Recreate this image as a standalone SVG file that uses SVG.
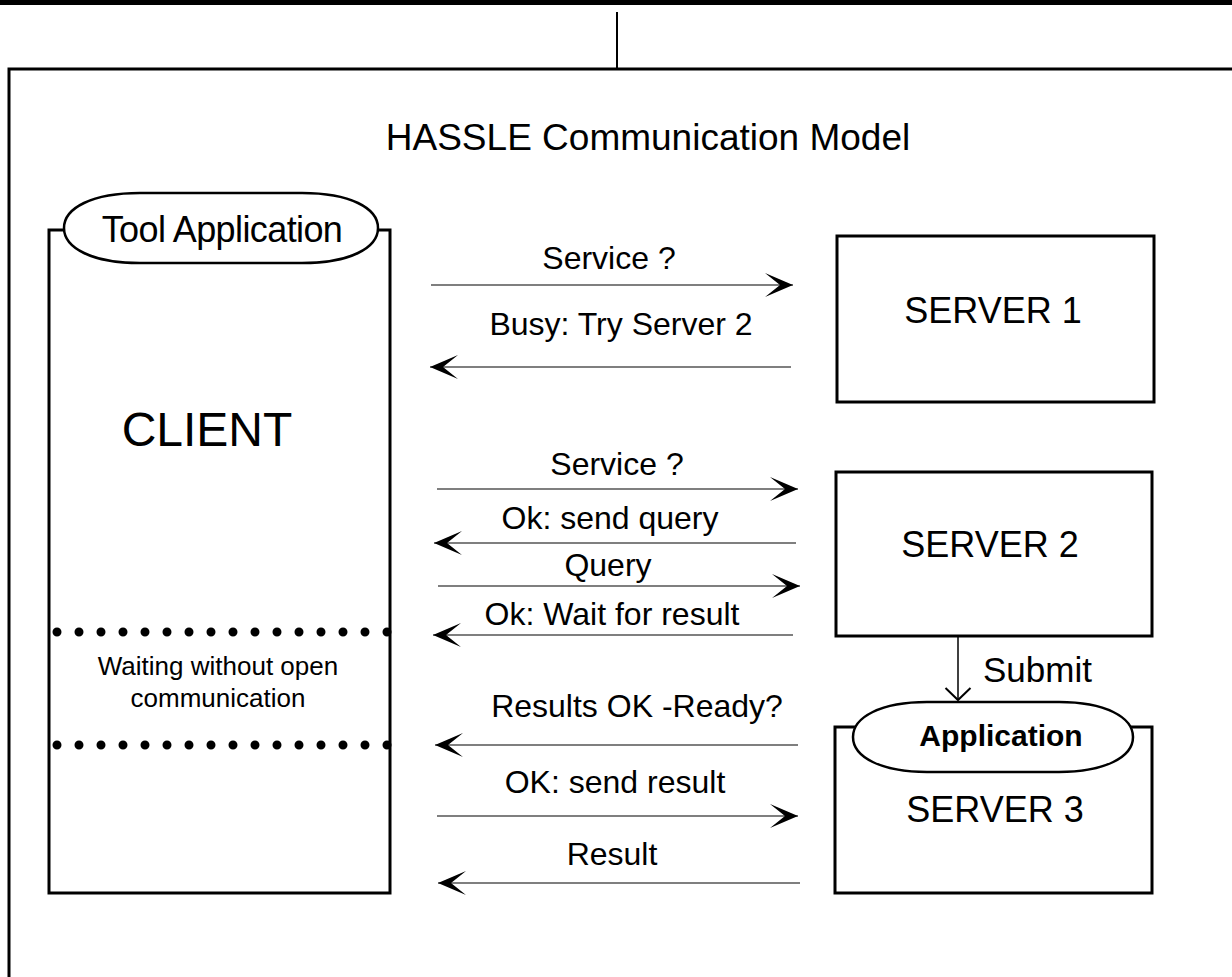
<svg xmlns="http://www.w3.org/2000/svg" width="1232" height="977" viewBox="0 0 1232 977">
<defs>
<style>
text{font-family:"Liberation Sans",Arial,sans-serif;fill:#000}
.box{fill:#fff;stroke:#000;stroke-width:3}
.ell{fill:#fff;stroke:#000;stroke-width:2.5}
.msg{stroke:#555;stroke-width:1.3;fill:none}
.lbl{font-size:32px;text-anchor:middle}
.srv{font-size:36px;text-anchor:middle}
.dots{stroke:#000;stroke-width:9;stroke-linecap:round;stroke-dasharray:0 22;fill:none}
</style>
<marker id="ah" viewBox="-28 -13 30 26" refX="0" refY="0" markerWidth="30" markerHeight="26" markerUnits="userSpaceOnUse" orient="auto">
<path d="M0,0 L-28,-12 L-13,0 L-28,12 Z" fill="#000"/>
</marker>
<marker id="open" viewBox="-15 -14 17 28" refX="0" refY="0" markerWidth="17" markerHeight="28" markerUnits="userSpaceOnUse" orient="auto">
<path d="M-12,-12.5 L0,0 L-12,12.5" fill="none" stroke="#000" stroke-width="2"/>
</marker>
</defs>
<rect x="0" y="0" width="1232" height="977" fill="#fff"/>
<rect x="0" y="0" width="1232" height="5" fill="#000"/>
<line x1="617" y1="12" x2="617" y2="68" stroke="#000" stroke-width="2"/>
<path d="M9,980 L9,69 L1235,69" fill="none" stroke="#000" stroke-width="3"/>
<text x="648" y="150" font-size="37" text-anchor="middle">HASSLE Communication Model</text>

<g id="client">
<rect class="box" x="49" y="230" width="341" height="663"/>
<path class="ell" d="M64,228 C64,208 92,193 140,193 L302,193 C350,193 378,208 378,228 C378,248 350,263 302,263 L140,263 C92,263 64,248 64,228 Z"/>
<text x="222" y="242" font-size="36" text-anchor="middle" letter-spacing="-0.6">Tool Application</text>
<text x="207" y="446" font-size="48" text-anchor="middle">CLIENT</text>
<line class="dots" x1="57" y1="632" x2="389" y2="632"/>
<line class="dots" x1="57" y1="745" x2="389" y2="745"/>
<text x="218" y="675" font-size="26" text-anchor="middle">Waiting without open</text>
<text x="218" y="707" font-size="26" text-anchor="middle">communication</text>
</g>

<g id="server1">
<rect class="box" x="837" y="236" width="317" height="166"/>
<text class="srv" x="993" y="323">SERVER 1</text>
</g>

<g id="server2">
<rect class="box" x="836" y="472" width="316" height="164"/>
<text class="srv" x="990" y="557">SERVER 2</text>
</g>

<g id="server3">
<rect class="box" x="835" y="727" width="317" height="166"/>
<path class="ell" d="M853,737 C853,717 881,702 927,702 L1059,702 C1105,702 1133,717 1133,737 C1133,757 1105,772 1059,772 L927,772 C881,772 853,757 853,737 Z"/>
<text x="1001" y="746" font-size="30" font-weight="bold" text-anchor="middle">Application</text>
<text class="srv" x="995" y="822">SERVER 3</text>
</g>

<g id="connectors">
<line class="msg" x1="431" y1="285" x2="793" y2="285" marker-end="url(#ah)"/>
<text class="lbl" x="609" y="269">Service ?</text>
<line class="msg" x1="791" y1="367" x2="430" y2="367" marker-end="url(#ah)"/>
<text class="lbl" x="621" y="335">Busy: Try Server 2</text>

<line class="msg" x1="437" y1="489" x2="798" y2="489" marker-end="url(#ah)"/>
<text class="lbl" x="617" y="475">Service ?</text>
<line class="msg" x1="796" y1="543" x2="434" y2="543" marker-end="url(#ah)"/>
<text class="lbl" x="610" y="529">Ok: send query</text>
<line class="msg" x1="438" y1="586" x2="800" y2="586" marker-end="url(#ah)"/>
<text class="lbl" x="608" y="576">Query</text>
<line class="msg" x1="793" y1="635" x2="433" y2="635" marker-end="url(#ah)"/>
<text class="lbl" x="612" y="625">Ok: Wait for result</text>

<line class="msg" x1="798" y1="745" x2="435" y2="745" marker-end="url(#ah)"/>
<text class="lbl" x="637" y="717">Results OK -Ready?</text>
<line class="msg" x1="437" y1="816" x2="798" y2="816" marker-end="url(#ah)"/>
<text class="lbl" x="615" y="793">OK: send result</text>
<line class="msg" x1="800" y1="883" x2="438" y2="883" marker-end="url(#ah)"/>
<text class="lbl" x="612" y="865">Result</text>

<line x1="958" y1="637" x2="958" y2="700" stroke="#000" stroke-width="1.5" marker-end="url(#open)"/>
<text x="983" y="682" font-size="35">Submit</text>
</g>
</svg>
